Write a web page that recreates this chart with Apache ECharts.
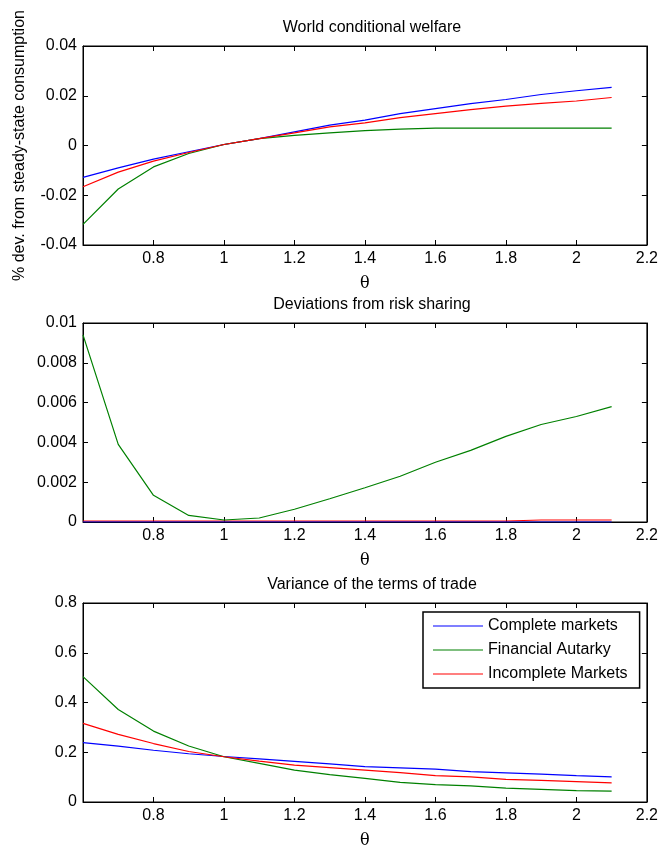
<!DOCTYPE html>
<html>
<head>
<meta charset="utf-8">
<script src="https://cdn.jsdelivr.net/npm/echarts@6/dist/echarts.min.js"></script>
<style>
  html, body { margin: 0; padding: 0; background: #fff; }
  #main { width: 661px; height: 850px; }
</style>
</head>
<body>
<div id="main"></div>
<script>
// theta grid
var theta = [0.6, 0.7, 0.8, 0.9, 1.0, 1.1, 1.2, 1.3, 1.4, 1.5, 1.6, 1.7, 1.8, 1.9, 2.0, 2.1];
var seriesNames = ["Complete markets", "Financial Autarky", "Incomplete Markets"];
var colors = ["#0000ff", "#008000", "#ff0000"];

// World conditional welfare
var welfareComplete = [-0.0128, -0.009, -0.0055, -0.0025, 0.0004, 0.0028, 0.0055, 0.0082, 0.0102, 0.0128, 0.0148, 0.0168, 0.0185, 0.0205, 0.022, 0.0234];
var welfareAutarky = [-0.0317, -0.0175, -0.0086, -0.0032, 0.0004, 0.0028, 0.0041, 0.0051, 0.006, 0.0066, 0.007, 0.007, 0.007, 0.007, 0.007, 0.007];
var welfareIncomplete = [-0.0166, -0.0107, -0.0063, -0.0028, 0.0004, 0.0028, 0.0051, 0.0075, 0.0091, 0.0112, 0.0128, 0.0144, 0.0158, 0.0169, 0.0179, 0.0193];

// Deviations from risk sharing
var riskComplete = [0, 0, 0, 0, 0, 0, 0, 0, 0, 0, 0, 0, 0, 0, 0, 0];
var riskAutarky = [0.0094, 0.0039, 0.00134, 0.00033, 0.0001, 0.0002, 0.00064, 0.00117, 0.00172, 0.0023, 0.003, 0.0036, 0.0043, 0.0049, 0.0053, 0.0058];
var riskIncomplete = [0.00005, 0.00005, 0.00005, 0.00005, 0.00005, 0.00005, 0.00005, 0.00005, 0.00005, 0.00005, 0.00005, 0.00005, 0.00005, 0.0001, 0.0001, 0.0001];

// Variance of the terms of trade
var totComplete = [0.239, 0.225, 0.208, 0.194, 0.183, 0.173, 0.163, 0.153, 0.142, 0.137, 0.132, 0.122, 0.117, 0.112, 0.106, 0.101];
var totAutarky = [0.504, 0.372, 0.285, 0.225, 0.182, 0.155, 0.128, 0.11, 0.095, 0.079, 0.07, 0.065, 0.056, 0.051, 0.046, 0.044];
var totIncomplete = [0.316, 0.272, 0.235, 0.203, 0.182, 0.164, 0.148, 0.138, 0.128, 0.118, 0.106, 0.101, 0.091, 0.087, 0.082, 0.077];

var titles = ["World conditional welfare", "Deviations from risk sharing", "Variance of the terms of trade"];
var yRanges = [[-0.04, 0.04, 0.02], [0, 0.01, 0.002], [0, 0.8, 0.2]];
var panelData = [
  [welfareComplete, welfareAutarky, welfareIncomplete],
  [riskComplete, riskAutarky, riskIncomplete],
  [totComplete, totAutarky, totIncomplete]
];

var font = "Liberation Sans, Arial, Helvetica, sans-serif";
var gridTops = [46, 323, 603];
var gridH = 199;

var chart = echarts.init(document.getElementById("main"));

var grids = [], xAxes = [], yAxes = [], series = [], titleList = [];

gridTops.forEach(function (top, i) {
  grids.push({
    left: 83, right: 10, top: top, height: gridH,
    show: true, borderColor: "#000", borderWidth: 1, backgroundColor: "#fff"
  });
  titleList.push({
    text: titles[i],
    left: 367, top: top - 31, textAlign: "center",
    textStyle: { fontFamily: font, fontSize: 16, fontWeight: "normal", color: "#000" }
  });
  // bottom x axis with labels
  xAxes.push({
    type: "value", gridIndex: i, position: "bottom",
    min: 0.6, max: 2.2, interval: 0.2,
    name: "θ", nameLocation: "middle", nameGap: 31,
    nameTextStyle: { fontFamily: "DejaVu Serif, serif", fontSize: 16, color: "#000" },
    axisLine: { onZero: false, lineStyle: { color: "#000", width: 1 } },
    axisTick: { inside: true, length: 5, lineStyle: { color: "#000" } },
    axisLabel: { showMinLabel: false, margin: 6, fontFamily: font, fontSize: 16, color: "#000" },
    splitLine: { show: false }
  });
  // top mirror for ticks
  xAxes.push({
    type: "value", gridIndex: i, position: "top",
    min: 0.6, max: 2.2, interval: 0.2,
    axisLine: { onZero: false, lineStyle: { color: "#000", width: 1 } },
    axisTick: { inside: true, length: 5, lineStyle: { color: "#000" } },
    axisLabel: { show: false },
    splitLine: { show: false }
  });
  var r = yRanges[i];
  yAxes.push({
    type: "value", gridIndex: i, position: "left",
    min: r[0], max: r[1], interval: r[2],
    name: i === 0 ? "% dev. from steady-state consumption" : "",
    nameLocation: "middle", nameGap: 55,
    nameTextStyle: { fontFamily: font, fontSize: 16, color: "#000" },
    axisLine: { show: true, onZero: false, lineStyle: { color: "#000", width: 1 } },
    axisTick: { show: true, inside: true, length: 5, lineStyle: { color: "#000" } },
    axisLabel: { margin: 6, fontFamily: font, fontSize: 16, color: "#000" },
    splitLine: { show: false }
  });
  yAxes.push({
    type: "value", gridIndex: i, position: "right",
    min: r[0], max: r[1], interval: r[2],
    axisLine: { show: true, onZero: false, lineStyle: { color: "#000", width: 1 } },
    axisTick: { show: true, inside: true, length: 5, lineStyle: { color: "#000" } },
    axisLabel: { show: false },
    splitLine: { show: false }
  });

  // draw incomplete first in panel 2 so blue sits on the axis line visibly
  var order = i === 1 ? [2, 1, 0] : [0, 1, 2];
  order.forEach(function (k) {
    series.push({
      name: seriesNames[k],
      type: "line",
      xAxisIndex: i * 2,
      yAxisIndex: i * 2,
      symbol: "none",
      color: colors[k],
      lineStyle: { color: colors[k], width: 1.2 },
      data: theta.map(function (t, j) { return [t, panelData[i][k][j]]; })
    });
  });
});

chart.setOption({
  animation: false,
  backgroundColor: "#fff",
  title: titleList,
  grid: grids,
  xAxis: xAxes,
  yAxis: yAxes,
  legend: {
    data: seriesNames,
    orient: "vertical",
    left: 423, top: 612,
    padding: [6, 12, 6, 10],
    icon: "path://M0,0 L50,0 L50,1.2 L0,1.2 Z",
    itemWidth: 50, itemHeight: 14, itemGap: 8,
    borderColor: "#000", borderWidth: 1.5, backgroundColor: "#fff",
    selectedMode: false,
    textStyle: { fontFamily: font, fontSize: 16, color: "#000" }
  },
  series: series
});
</script>
</body>
</html>
